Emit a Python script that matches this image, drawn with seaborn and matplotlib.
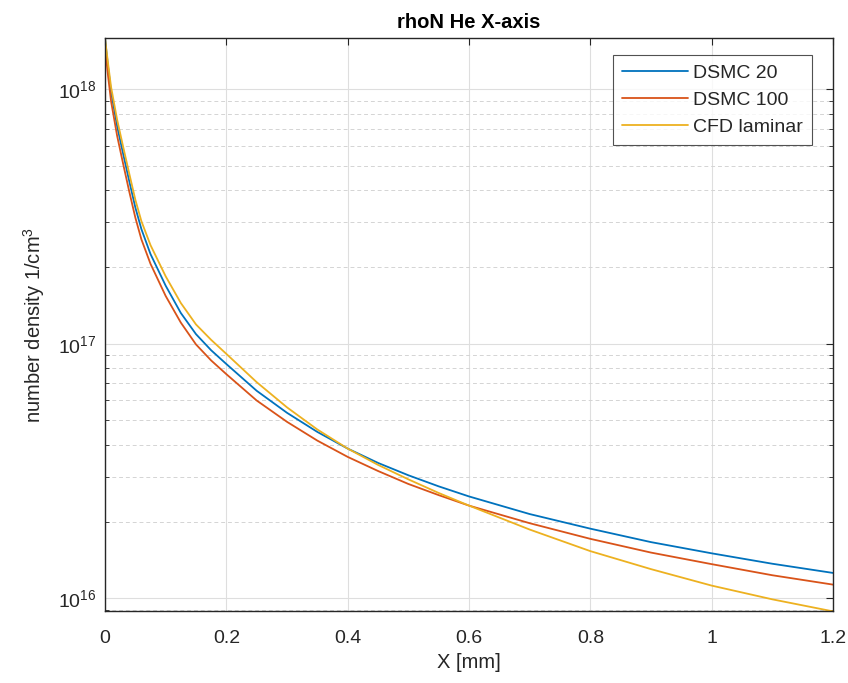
import numpy as np
import pandas as pd
import matplotlib
matplotlib.use("Agg")
import matplotlib.pyplot as plt
import matplotlib.ticker as mticker
import seaborn as sns

x_mm = [0, 0.005, 0.01, 0.02, 0.03, 0.04, 0.05, 0.06, 0.075, 0.1, 0.125, 0.15, 0.175,
        0.2, 0.25, 0.3, 0.35, 0.4, 0.45, 0.5, 0.55, 0.6, 0.7, 0.8, 0.9, 1.0, 1.1, 1.2]
dsmc20 = [1.585e18, 1.23e18, 9.77e17, 7.16e17, 5.56e17, 4.35e17, 3.43e17, 2.82e17, 2.25e17,
          1.69e17, 1.32e17, 1.09e17, 9.42e16, 8.32e16, 6.53e16, 5.35e16, 4.50e16, 3.87e16,
          3.40e16, 3.04e16, 2.75e16, 2.51e16, 2.14e16, 1.875e16, 1.66e16, 1.50e16, 1.365e16,
          1.256e16]
dsmc100 = [1.466e18, 1.13e18, 8.97e17, 6.56e17, 5.08e17, 3.96e17, 3.13e17, 2.57e17, 2.06e17,
           1.54e17, 1.21e17, 9.93e16, 8.59e16, 7.59e16, 5.98e16, 4.93e16, 4.16e16, 3.59e16,
           3.16e16, 2.81e16, 2.54e16, 2.31e16, 1.97e16, 1.71e16, 1.51e16, 1.36e16, 1.23e16,
           1.13e16]
cfd = [1.585e18, 1.265e18, 1.02e18, 7.59e17, 5.93e17, 4.66e17, 3.68e17, 3.03e17, 2.44e17,
       1.84e17, 1.445e17, 1.19e17, 1.035e17, 9.12e16, 7.06e16, 5.62e16, 4.60e16, 3.87e16,
       3.34e16, 2.93e16, 2.59e16, 2.31e16, 1.86e16, 1.53e16, 1.30e16, 1.12e16, 9.89e15,
       8.87e15]
series_names = ["DSMC 20", "DSMC 100", "CFD laminar"]
colors = ["#0072BD", "#D95319", "#EDB120"]
xticks = [0, 0.2, 0.4, 0.6, 0.8, 1.0, 1.2]
xtick_labels = ["0", "0.2", "0.4", "0.6", "0.8", "1", "1.2"]

df = pd.concat([
    pd.DataFrame({"x": x_mm, "y": vals, "series": name})
    for name, vals in zip(series_names, [dsmc20, dsmc100, cfd])
], ignore_index=True)

sns.set_theme(style="white")
plt.rcParams["font.family"] = ["Liberation Sans", "DejaVu Sans"]
plt.rcParams["mathtext.fontset"] = "custom"
plt.rcParams["mathtext.rm"] = "Liberation Sans"
plt.rcParams["mathtext.it"] = "Liberation Sans:italic"

fig = plt.figure(figsize=(8.48, 6.83), dpi=100)
ax = fig.add_axes([105/848, 1-611/683, (833-105)/848, (611-38)/683])

sns.lineplot(data=df, x="x", y="y", hue="series", hue_order=series_names,
             palette=colors, estimator=None, sort=False, linewidth=1.3, ax=ax)

ax.set_yscale("log")
ax.set_xlim(0, 1.2)
ax.set_ylim(8.9e15, 1.59e18)
ax.set_xticks(xticks)
ax.set_xticklabels(xtick_labels)
ax.yaxis.set_major_locator(mticker.LogLocator(base=10, numticks=10))
ax.yaxis.set_minor_locator(mticker.LogLocator(base=10, subs=np.arange(2, 10), numticks=20))
ax.yaxis.set_minor_formatter(mticker.NullFormatter())

txt_col = "#262626"
ax.tick_params(axis="both", which="major", direction="in", length=5, width=0.8,
               colors=txt_col, labelsize=14, top=True, right=True)
ax.tick_params(axis="x", which="major", pad=14)
ax.tick_params(axis="y", which="major", pad=6)
ax.tick_params(axis="y", which="minor", direction="in", length=3.2, width=0.6,
               colors=txt_col, left=True, right=True)
ax.tick_params(axis="x", which="minor", bottom=False, top=False)
for s in ax.spines.values():
    s.set_color(txt_col)
    s.set_linewidth(1.0)
    s.set_visible(True)

ax.grid(True, which="major", color="#dedede", linewidth=0.8, linestyle="-")
ax.grid(True, which="minor", axis="y", color="#d4d4d4", linewidth=0.7, linestyle=(0, (4, 3)))
ax.set_axisbelow(True)

ax.set_xlabel("X [mm]", fontsize=14.5, color=txt_col, labelpad=4)
ax.set_ylabel("number density 1/cm$^3$", fontsize=14.5, color=txt_col, labelpad=8)
ax.set_title("rhoN He X-axis", fontsize=14.5, fontweight="bold", color="black", pad=7)

leg = ax.legend(loc="upper right", bbox_to_anchor=(0.971, 0.970), borderaxespad=0,
                fontsize=14, frameon=True, fancybox=False, shadow=False,
                handlelength=3.4, handletextpad=0.26, labelspacing=0.5,
                borderpad=0.45, title=None)
leg.get_frame().set_edgecolor("#262626")
leg.get_frame().set_linewidth(0.8)
for line in leg.get_lines():
    line.set_linewidth(1.3)

fig.savefig("out.png", dpi=100, facecolor="white")
